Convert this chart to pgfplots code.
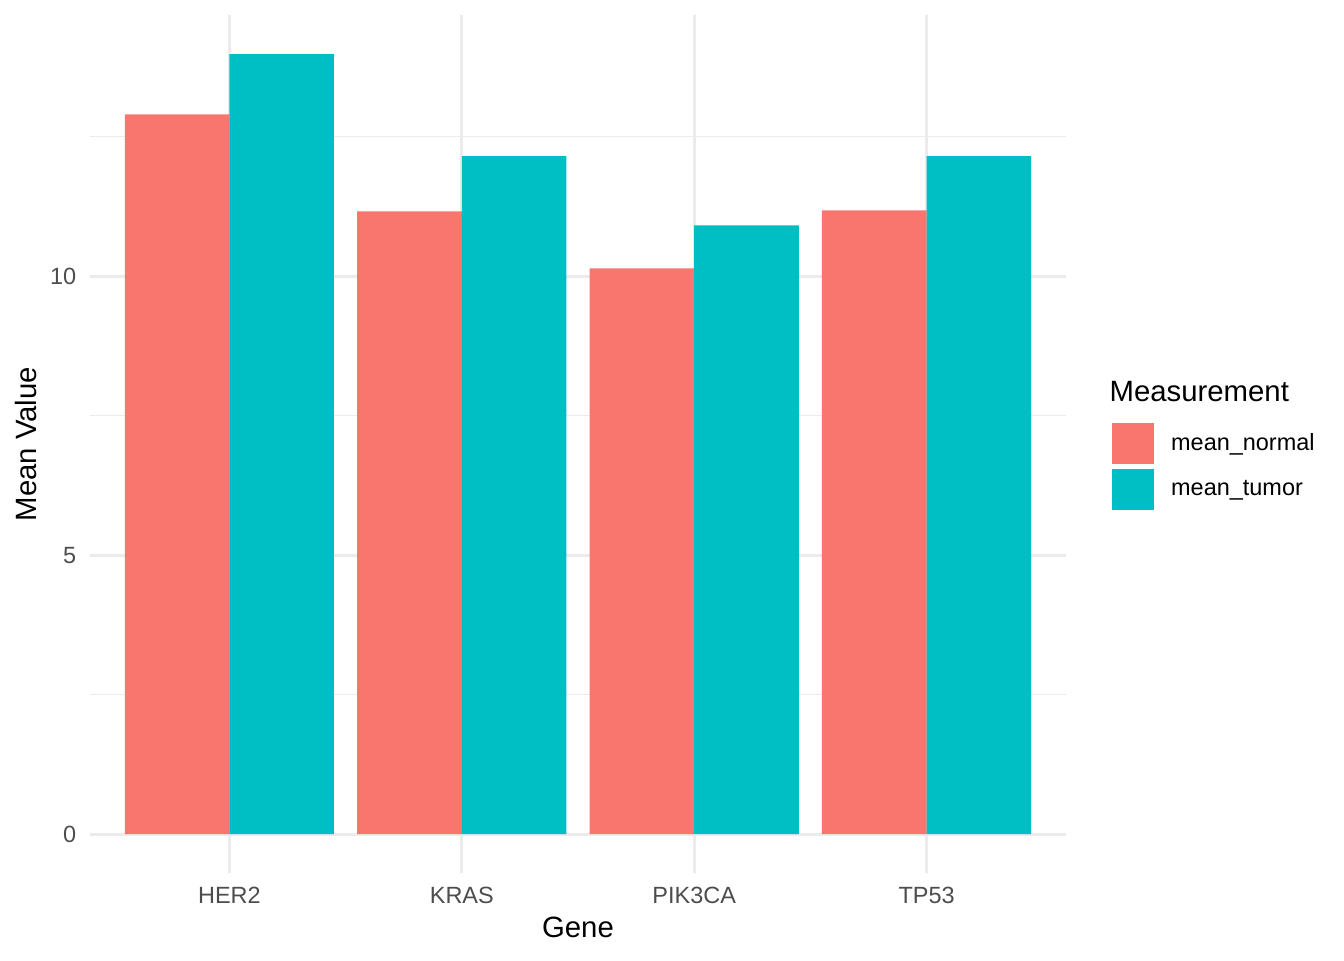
\documentclass[border=0pt]{standalone}
\usepackage{fontspec}
\setmainfont{Liberation Sans}
\usepackage{pgfplots}
\pgfplotsset{compat=1.18}
\definecolor{cnormal}{HTML}{F8766D}
\definecolor{ctumor}{HTML}{00BFC4}
\definecolor{gridc}{HTML}{EBEBEB}
\definecolor{tickc}{HTML}{4D4D4D}
\begin{document}
\begin{tikzpicture}
\useasboundingbox (0,0) rectangle (504pt,360pt);
\begin{axis}[
  at={(33.75pt,32.6pt)}, anchor=south west,
  scale only axis, width=366pt, height=321.75pt,
  xmin=0.4, xmax=4.6, ymin=-0.699, ymax=14.679,
  xtick={1,2,3,4}, xticklabels={HER2,KRAS,PIK3CA,TP53},
  ytick={0,5,10}, minor ytick={2.5,7.5,12.5},
  ymajorgrids, yminorgrids, xmajorgrids,
  major grid style={draw=gridc, line width=1.07pt},
  minor grid style={draw=gridc, line width=0.53pt},
  axis line style={draw=none},
  major tick length=0pt, minor tick length=0pt,
  tick style={draw=none},
  /pgf/number format/assume math mode=true,
  ticklabel style={font=\fontsize{8.8}{10}\selectfont, text=tickc, inner sep=0pt},
  xticklabel style={yshift=-5pt},
  yticklabel style={xshift=-4.95pt},
  xlabel={Gene}, ylabel={Mean Value},
  label style={font=\fontsize{11}{13}\selectfont, inner sep=0pt},
  xlabel style={at={(axis description cs:0.5,0)}, anchor=base, yshift=-24.1pt},
  ylabel style={at={(axis description cs:0,0.5)}, anchor=base, yshift=19.9pt},
  legend style={at={(rel axis cs:1.0471,0.5248)}, anchor=north west, draw=none, fill=none,
    inner sep=0pt, outer sep=0pt, row sep=1.65pt, column sep=6.6pt,
    font=\fontsize{8.8}{10}\selectfont, nodes={inner sep=0pt}},
  legend cell align=left,
  legend image code/.code={\fill[#1] (0pt,-7.8pt) rectangle (15.6pt,7.8pt);},
  clip=false,
]
\addplot[ybar, bar width=0.45, bar shift=-0.225, fill=cnormal, draw=none]
  coordinates {(1,12.90) (2,11.16) (3,10.14) (4,11.18)};
\addlegendentry{mean\_normal}
\addplot[ybar, bar width=0.45, bar shift=0.225, fill=ctumor, draw=none]
  coordinates {(1,13.98) (2,12.15) (3,10.91) (4,12.15)};
\addlegendentry{mean\_tumor}
\end{axis}
\node[anchor=base west, inner sep=0pt, font=\fontsize{11}{13}\selectfont] at (415.9pt,209.4pt) {Measurement};
\end{tikzpicture}
\end{document}
